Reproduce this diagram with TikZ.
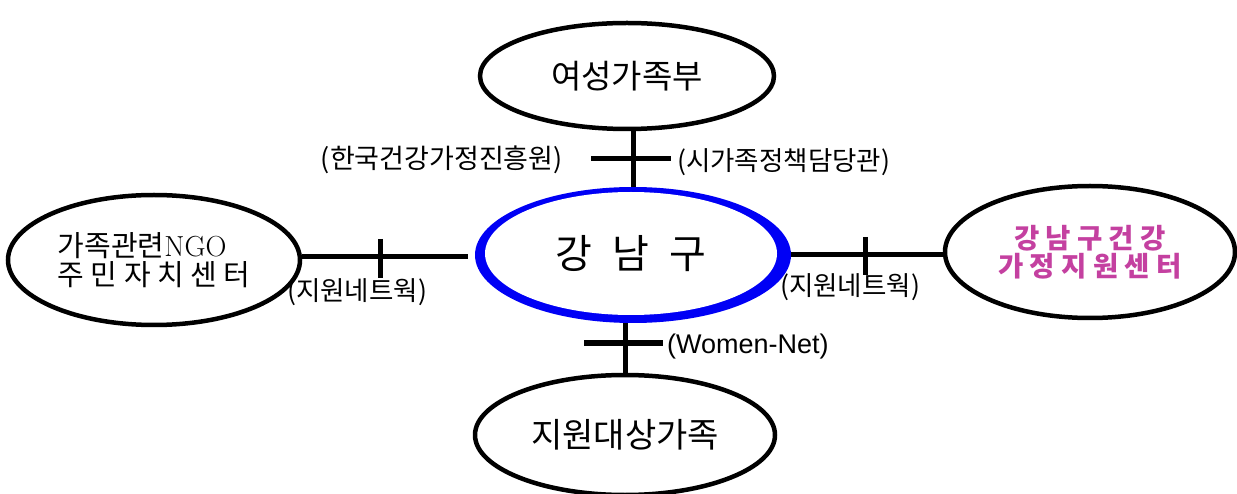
\documentclass[tikz,border=0pt]{standalone}
\usepackage{fontspec}
\newfontfamily\kr{Noto Sans CJK KR}
\newfontfamily\lsans{Liberation Sans}
\usetikzlibrary{shapes.geometric}
\definecolor{mag}{RGB}{196,64,160}
\definecolor{ringblue}{RGB}{0,0,245}
\begin{document}
\begin{tikzpicture}[x=1pt,y=-1pt,
  ell/.style={ellipse, draw=black, line width=4.5pt, inner sep=0pt, fill=white},
  conn/.style={line width=5pt},
  lbl/.style={font=\kr\fontsize{26.5}{28}\selectfont, inner sep=0pt}]
\useasboundingbox (0,0) rectangle (1237,494);
% ellipses
\node[ell, minimum width=294pt, minimum height=106pt, font=\kr\fontsize{33}{36}\selectfont] (top) at (627,76) {여성가족부};
\node[ell, minimum width=292pt, minimum height=130pt, align=left, font=\kr\fontsize{29}{29}\selectfont] (left) at (154,260) {가족관련{\rmfamily NGO}\\주 민 자 치 센 터};
\node[ell, minimum width=290pt, minimum height=132pt, align=center, text=mag, font=\kr\bfseries\fontsize{27.5}{28}\selectfont] (right) at (1090,252) {강 남 구 건 강\\가 정 지 원 센 터};
\node[ell, minimum width=300pt, minimum height=120pt, font=\kr\fontsize{34}{36}\selectfont] (bottom) at (625,435) {지원대상가족};
\node[ellipse, fill=ringblue, minimum width=316pt, minimum height=136pt, inner sep=0pt] (c) at (633,255) {};
\node[ellipse, fill=white, minimum width=292pt, minimum height=123pt, inner sep=0pt, font=\kr\fontsize{40}{42}\selectfont] (ci) at (631,253.5) {강\hspace{20pt}남\hspace{20pt}구};
% connector coordinates
\coordinate (tx) at (633,159);
\coordinate (t1) at (591,159);
\coordinate (t2) at (671,159);
\coordinate (ry) at (865,255);
\coordinate (r1) at (865,237);
\coordinate (r2) at (865,275);
\coordinate (le) at (468,257);
\coordinate (l1) at (380,239);
\coordinate (l2) at (380,278);
\coordinate (bx) at (625,343);
\coordinate (b1) at (584,343);
\coordinate (b2) at (663,343);
% connectors
\draw[conn] (top.south -| tx) -- (c.north -| tx);
\draw[conn] (t1) -- (t2);
\draw[conn] (c.east |- ry) -- (right.west |- ry);
\draw[conn] (r1) -- (r2);
\draw[conn] (left.east |- le) -- (le);
\draw[conn] (l1) -- (l2);
\draw[conn] (c.south -| bx) -- (bottom.north -| bx);
\draw[conn] (b1) -- (b2);
% labels
\node[lbl, anchor=east, font=\kr\fontsize{27}{28}\selectfont] (lab1) at (563,160) {(한국건강가정진흥원)};
\node[lbl, anchor=west] (lab2) at (677,162) {(시가족정책담당관)};
\node[lbl, anchor=west] (lab3) at (287,292) {(지원네트웍)};
\node[lbl, anchor=west] (lab4) at (780,287) {(지원네트웍)};
\node[lbl, anchor=west, font=\lsans\fontsize{27}{28}\selectfont] (lab5) at (667,347) {(Women-Net)};
\end{tikzpicture}
\end{document}
